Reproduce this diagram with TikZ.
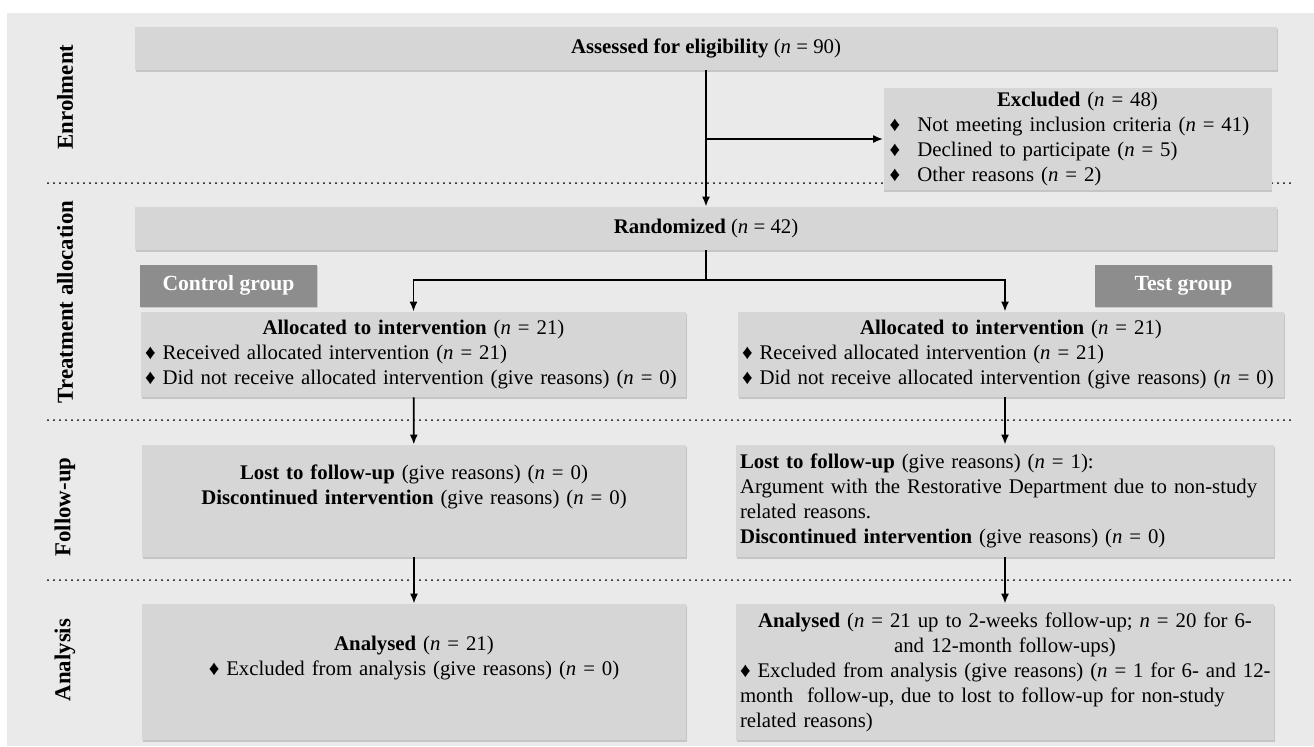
\documentclass[tikz,border=0pt]{standalone}
\usepackage{fontspec}
\setmainfont{Liberation Serif}
\usetikzlibrary{shapes,arrows,arrows.meta,shadows}
\definecolor{panelgray}{HTML}{EAEAEA}
\definecolor{boxgray}{HTML}{D6D6D6}
\definecolor{groupgray}{HTML}{8D8D8D}
\tikzstyle{line} = [draw, -{Latex[length=5pt,width=4pt]}, line width=0.9pt]
\tikzstyle{box} = [fill=boxgray, inner xsep=2pt, inner ysep=1pt,
  drop shadow={shadow xshift=0.4pt, shadow yshift=-0.8pt, opacity=0.35}]
\tikzstyle{group} = [fill=groupgray, text=white, font=\fontsize{10.8}{13}\selectfont\bfseries,
  minimum width=88.5pt, minimum height=21pt,
  drop shadow={shadow xshift=0.4pt, shadow yshift=-0.8pt, opacity=0.3}]
\tikzstyle{phase} = [rotate=90, font=\fontsize{11.4}{13}\selectfont\bfseries]
\tikzstyle{sep} = [line width=1pt, line cap=round, dash pattern=on 0pt off 3pt]
\newcommand{\nval}[1]{(\textit{n}~=~#1)}
\newcommand{\dia}{\makebox[14pt][l]{♦}}

\begin{document}
\begin{tikzpicture}[x=0.5pt, y=-0.5pt, font=\fontsize{10.4}{12.5}\selectfont]
\useasboundingbox (0,0) rectangle (1314,746);
\fill [panelgray] (7,13) rectangle (1314,746);
% phases
\node (enrol) at (65,97) [phase] {Enrolment};
\node (allocation) at (65,302) [phase] {Treatment allocation};
\node (followup) at (65,507) [phase] {Follow-up};
\node (analysis) at (65,660) [phase] {Analysis};
\draw [sep] (48,183) -- (1290,183);
\draw [sep] (48,420) -- (1290,420);
\draw [sep] (48,580) -- (1290,580);
% boxes
\node (assess) at (706,48.5) [box, minimum width=571pt, minimum height=21.5pt] {\textbf{Assessed for eligibility} \nval{90}};
\node (excl) at (1077.5,139) [box, text width=188pt, inner xsep=3pt, minimum height=51pt] {%
  {\centering\textbf{Excluded} \nval{48}\par}\raggedright
  \dia Not meeting inclusion criteria \nval{41}\\
  \dia Declined to participate \nval{5}\\
  \dia Other reasons \nval{2}};
\node (rand) at (706,228.5) [box, minimum width=571pt, minimum height=21.5pt] {\textbf{Randomized} \nval{42}};
\node (ctrl) at (228.5,285.5) [group] {Control group};
\node (test) at (1183.5,285.5) [group] {Test group};
\node (allocL) at (413.5,354.5) [box, text width=268.5pt, minimum height=42.5pt] {%
  {\centering\textbf{Allocated to intervention} \nval{21}\par}\raggedright
  ♦ Received allocated intervention \nval{21}\\
  ♦ Did not receive allocated intervention (give reasons) \nval{0}};
\node (allocR) at (1011,354.5) [box, text width=269pt, minimum height=42.5pt] {%
  {\centering\textbf{Allocated to intervention} \nval{21}\par}\raggedright
  ♦ Received allocated intervention \nval{21}\\
  ♦ Did not receive allocated intervention (give reasons) \nval{0}};
\node (fupL) at (414,501) [box, text width=268pt, minimum height=56pt, align=center] {%
  \textbf{Lost to follow-up} (give reasons) \nval{0}\\
  \textbf{Discontinued intervention} (give reasons) \nval{0}\\
  \strut};
\node (fupR) at (1005,501) [box, text width=265pt, minimum height=56pt, align=left] {%
  \textbf{Lost to follow-up} (give reasons) \nval{1}:\\
  Argument with the Restorative Department due to non-study\\
  related reasons.\\
  \textbf{Discontinued intervention} (give reasons) \nval{0}};
\node (anaL) at (414,672) [box, text width=268pt, minimum height=68pt, align=center] {%
  \textbf{Analysed} \nval{21}\\
  ♦ Excluded from analysis (give reasons) \nval{0}\\
  \strut};
\node (anaR) at (1005,672) [box, text width=265pt, minimum height=68pt] {%
  {\centering\textbf{Analysed} (\textit{n}~=~21 up to 2-weeks follow-up; \textit{n}~=~20 for 6-\\
  and 12-month follow-ups)\par}\raggedright
  \mbox{♦ Excluded from analysis (give reasons) (\textit{n}~=~1 for 6- and 12-}\\
  month\ \ follow-up, due to lost to follow-up for non-study\\
  related reasons)};
% arrows
\coordinate (split) at (assess.south |- excl.west);
\coordinate (fork) at (706,280);
\path [line] (assess) -- (rand);
\path [line] (split) -- (excl);
\draw [line width=0.9pt] (rand) -- (fork);
\path [line] (fork) -| (allocL);
\path [line] (fork) -| (allocR.north -| fupR);
\path [line] (allocL) -- (fupL);
\path [line] (allocR.south -| fupR) -- (fupR);
\path [line] (fupL) -- (anaL);
\path [line] (fupR) -- (anaR);
\end{tikzpicture}
\end{document}
